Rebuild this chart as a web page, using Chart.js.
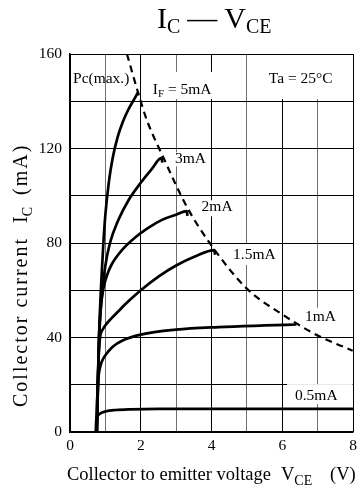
<!DOCTYPE html>
<html>
<head>
<meta charset="utf-8">
<script src="https://cdn.jsdelivr.net/npm/chart.js@4/dist/chart.umd.min.js"></script>
<style>
  html, body { margin: 0; padding: 0; background: #fff; }
  canvas { display: block; }
</style>
</head>
<body>
<canvas id="chart" width="363" height="487"></canvas>
<script>
// Forward current levels for each output curve
const ifLabels = ['5mA', '3mA', '2mA', '1.5mA', '1mA', '0.5mA'];

// Collector-emitter voltage (V) / collector current (mA) for each curve
const vce5  = [0.76, 0.79, 0.82, 0.86, 0.90, 0.94, 1.0, 1.1, 1.2, 1.35, 1.5, 1.65, 1.8, 1.93];
const ic5   = [0, 20, 40, 56, 68, 79, 92, 106, 115.5, 125, 131.5, 136.5, 140.5, 144];

const vce3  = [0.76, 0.79, 0.82, 0.86, 0.92, 1.0, 1.13, 1.36, 1.65, 2.0, 2.31, 2.59, 2.61];
const ic3   = [0, 20, 38, 50, 61, 70.5, 80, 89.5, 98, 105.5, 111.3, 116, 114];

const vce2  = [0.76, 0.79, 0.82, 0.86, 0.94, 1.05, 1.18, 1.5, 1.84, 2.2, 2.6, 3.0, 3.3, 3.32];
const ic2   = [0, 20, 40, 51, 60.5, 66.5, 71, 77.5, 82.3, 86.3, 89.8, 92, 93.5, 91.5];

const vce15 = [0.75, 0.78, 0.82, 0.86, 0.93, 0.99, 1.15, 1.36, 1.65, 2.0, 2.5, 3.0, 3.53, 4.08, 4.10];
const ic15  = [0, 20, 35, 41, 43.5, 45, 47.8, 51, 55.3, 60, 65.8, 70.5, 74.3, 77, 75];

const vce1  = [0.74, 0.76, 0.78, 0.81, 0.86, 0.92, 1.0, 1.2, 1.5, 2.0, 3.0, 4.2, 5.5, 6.4];
const ic1   = [0, 10, 18, 24, 28, 30.5, 32.5, 36, 38.8, 41.2, 43.3, 44.4, 45.1, 45.5];

const vce05 = [0.73, 0.74, 0.77, 0.85, 1.0, 1.3, 1.7, 2.5, 8.0];
const ic05  = [0, 4.5, 6.5, 7.8, 8.7, 9.3, 9.6, 9.8, 9.8];

// Collector power dissipation limit, Pc(max.)
const pcV = [1.61, 1.93, 2.17, 2.63, 3.30, 3.95, 4.99, 6.03, 6.97, 7.99];
const pcI = [160, 143.4, 132.1, 116.5, 95.4, 80.0, 60.8, 49.5, 41.1, 34.4];

// Labelled ticks
const xTicks = [0, 2, 4, 6, 8];
const yTicks = [0, 40, 80, 120, 160];

const SERIF = '"Liberation Serif", "Times New Roman", serif';
const pts = (xs, ys) => xs.map((v, i) => ({ x: v, y: ys[i] }));

const curve = (xs, ys) => ({
  data: pts(xs, ys),
  showLine: true,
  borderColor: '#000',
  borderWidth: 2.7,
  pointRadius: 0,
  fill: false,
  cubicInterpolationMode: 'monotone'
});

// Draws a run of text pieces, some of them as subscripts
function drawRich(ctx, parts, x, y, size, subSize, subDrop) {
  let cx = x;
  for (const p of parts) {
    ctx.font = (p.sub ? subSize : size) + 'px ' + SERIF;
    ctx.fillText(p.t, cx, p.sub ? y + subDrop : y);
    cx += ctx.measureText(p.t).width + (p.gap || 0);
  }
  return cx;
}
function richWidth(ctx, parts, size, subSize) {
  let w = 0;
  for (const p of parts) {
    ctx.font = (p.sub ? subSize : size) + 'px ' + SERIF;
    w += ctx.measureText(p.t).width + (p.gap || 0);
  }
  return w;
}
// Text with extra spacing between characters
function drawSpaced(ctx, text, x, y, spacing) {
  let cx = x;
  for (const ch of text) {
    ctx.fillText(ch, cx, y);
    cx += ctx.measureText(ch).width + spacing;
  }
  return cx;
}

// In-plot annotations; pad = [left, top, right, bottom] of the white backing box
const notes = [
  { parts: [{ t: 'Pc(max.)' }], v: 0.085, i: 149.4, pad: null },
  { parts: [{ t: 'I' }, { t: 'F', sub: true }, { t: ' = ' + ifLabels[0] }], v: 2.34, i: 144.8, pad: [3, 18, 2, 9] },
  { parts: [{ t: 'Ta = 25°C' }], v: 5.62, i: 149.4, pad: [4, 24, 11, 20] },
  { parts: [{ t: ifLabels[1] }], v: 2.97, i: 115.4, pad: [2, 7, 2, 7] },
  { parts: [{ t: ifLabels[2] }], v: 3.72, i: 95.1, pad: [2, 7, 2, 9] },
  { parts: [{ t: ifLabels[3] }], v: 4.61, i: 75.1, pad: [3, 10.5, 3, 10.5] },
  { parts: [{ t: ifLabels[4] }], v: 6.64, i: 48.8, pad: [3, 9, 3, 17] },
  { parts: [{ t: ifLabels[5] }], v: 6.36, i: 15.2, pad: [8, 12, 15, 8] }
];

const notePlugin = {
  id: 'notes',
  beforeDatasetsDraw(chart) {
    const { ctx, scales: { x, y } } = chart;
    ctx.save();
    ctx.textBaseline = 'middle';
    ctx.textAlign = 'left';
    for (const n of notes) {
      const px = x.getPixelForValue(n.v);
      const py = y.getPixelForValue(n.i);
      const w = richWidth(ctx, n.parts, 15.5, 11);
      if (n.pad) {
        ctx.fillStyle = '#fff';
        ctx.fillRect(px - n.pad[0], py - n.pad[1], w + n.pad[0] + n.pad[2], n.pad[1] + n.pad[3]);
      }
      ctx.fillStyle = '#000';
      drawRich(ctx, n.parts, px, py, 15.5, 11, 4);
    }
    ctx.restore();
  }
};

const titlePlugin = {
  id: 'titles',
  afterDraw(chart) {
    const ctx = chart.ctx;
    ctx.save();
    ctx.fillStyle = '#000';
    ctx.textBaseline = 'alphabetic';
    ctx.textAlign = 'left';

    // Chart title: IC — VCE
    drawRich(ctx, [
      { t: 'I' }, { t: 'C', sub: true, gap: 7 }, { t: '—', gap: 7 }, { t: 'V' }, { t: 'CE', sub: true }
    ], 157, 28, 30, 20, 5);

    // X axis title
    drawRich(ctx, [{ t: 'Collector to emitter voltage' }], 67, 480, 18.5, 14, 5);
    drawRich(ctx, [{ t: 'V' }, { t: 'CE', sub: true }], 281, 480, 18.5, 14, 5);
    drawRich(ctx, [{ t: '(V)' }], 330, 480, 18.5, 14, 5);

    // Y axis title, rotated
    ctx.translate(27, 407);
    ctx.rotate(-Math.PI / 2);
    ctx.font = '20px ' + SERIF;
    let ty = drawSpaced(ctx, 'Collector current', 0, 0, 2);
    ty += 14;
    ty = drawRich(ctx, [{ t: 'I' }, { t: 'C', sub: true }], ty, 0, 20, 14, 5);
    ty += 12;
    ctx.font = '20px ' + SERIF;
    drawSpaced(ctx, '(mA)', ty, 0, 2);
    ctx.restore();
  }
};

new Chart(document.getElementById('chart'), {
  type: 'scatter',
  data: {
    datasets: [
      curve(vce5, ic5),
      curve(vce3, ic3),
      curve(vce2, ic2),
      curve(vce15, ic15),
      curve(vce1, ic1),
      curve(vce05, ic05),
      {
        data: pts(pcV, pcI),
        showLine: true,
        borderColor: '#000',
        borderWidth: 2.2,
        borderDash: [7, 5],
        pointRadius: 0,
        fill: false,
        cubicInterpolationMode: 'monotone'
      }
    ]
  },
  options: {
    responsive: false,
    animation: false,
    devicePixelRatio: 1,
    layout: { padding: { left: 0, right: 10, top: 54, bottom: 0 } },
    plugins: {
      legend: { display: false },
      tooltip: { enabled: false },
      title: { display: false }
    },
    scales: {
      x: {
        type: 'linear',
        min: 0,
        max: 8,
        afterFit(s) { s.height = 55; },
        ticks: {
          stepSize: 1,
          autoSkip: false,
          maxRotation: 0,
          padding: 5,
          color: '#000',
          font: { family: SERIF, size: 15.5 },
          callback: v => xTicks.includes(v) ? String(v) : ''
        },
        grid: {
          drawTicks: false,
          lineWidth: 1,
          color: c => (c.tick && c.tick.value % 2) ? '#707070' : '#000'
        },
        border: { display: true, color: '#000', width: 1.5 }
      },
      y: {
        type: 'linear',
        min: 0,
        max: 160,
        afterFit(s) { s.width = 70; },
        ticks: {
          stepSize: 20,
          autoSkip: false,
          padding: 8,
          color: '#000',
          font: { family: SERIF, size: 15.5 },
          callback: v => yTicks.includes(v) ? String(v) : ''
        },
        grid: {
          drawTicks: false,
          lineWidth: 1,
          color: '#000'
        },
        border: { display: true, color: '#000', width: 1.5 }
      }
    }
  },
  plugins: [notePlugin, titlePlugin]
});
</script>
</body>
</html>
